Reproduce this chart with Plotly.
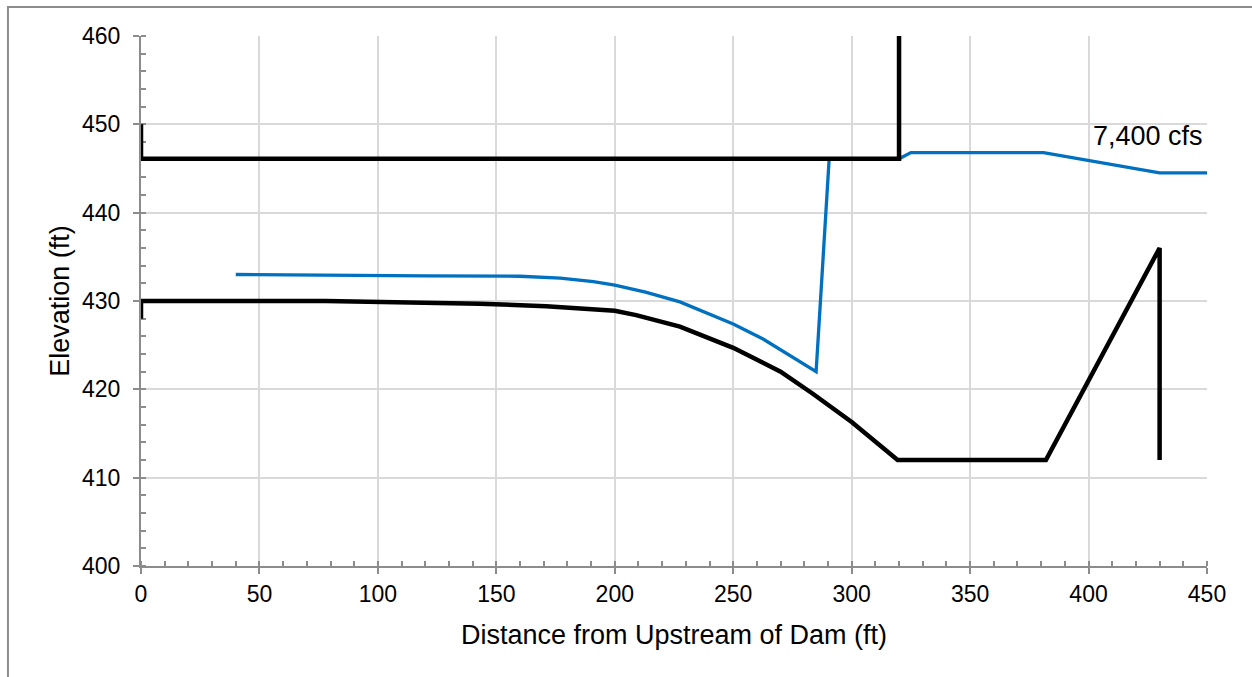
import plotly.graph_objects as go

# Channel / spillway bed profile
bed_x = [0, 0, 78, 120, 143, 171, 200, 209, 227.5, 250, 270, 283.6, 300, 319.4, 382, 430, 430]
bed_y = [428, 430, 430, 429.8, 429.7, 429.4, 428.9, 428.4, 427.1, 424.7, 422.0, 419.5, 416.3, 412.0, 412.0, 436.0, 412.0]

# Dam crest / reservoir outline
dam_x = [0, 0, 320, 320]
dam_y = [450, 446.1, 446.1, 460]

# Water surface for 7,400 cfs
ws_x = [40, 100, 120, 160, 177, 191, 200, 213, 227.5, 250, 262.6, 285, 290.5, 320, 325, 381, 430, 450]
ws_y = [433.0, 432.95, 432.85, 432.8, 432.6, 432.2, 431.8, 431.0, 429.9, 427.4, 425.7, 422.0, 446.1, 446.1, 446.8, 446.8, 444.5, 444.5]

flow_label = "7,400 cfs"

FONT = "Liberation Sans, Arial, sans-serif"

fig = go.Figure()
fig.add_trace(go.Scatter(x=ws_x, y=ws_y, mode="lines",
                         line=dict(color="#0070C0", width=3.3), showlegend=False))
fig.add_trace(go.Scatter(x=bed_x, y=bed_y, mode="lines",
                         line=dict(color="#000000", width=4.5), showlegend=False))
fig.add_trace(go.Scatter(x=dam_x, y=dam_y, mode="lines",
                         line=dict(color="#000000", width=4.5), showlegend=False))

fig.add_annotation(x=450, y=448.7, xref="x", yref="y", text=flow_label,
                   showarrow=False, xanchor="right", yanchor="middle", xshift=-2,
                   font=dict(family=FONT, size=27, color="#000000"))

# Outer chart frame
fig.add_shape(type="rect", xref="paper", yref="paper",
              x0=-0.1248, x1=1.08, y0=-0.3, y1=1.0547,
              line=dict(color="#8c8c8c", width=2), fillcolor="rgba(0,0,0,0)")

fig.update_xaxes(range=[0, 450], dtick=50, tick0=0,
                 showgrid=True, gridcolor="#d9d9d9", gridwidth=2,
                 showline=True, linecolor="#8c8c8c", linewidth=2,
                 ticks="outside", ticklen=6, tickwidth=2, tickcolor="#8c8c8c",
                 minor=dict(ticks="inside", dtick=10, ticklen=5, tickwidth=2,
                            tickcolor="#8c8c8c", showgrid=False),
                 zeroline=False, layer="below traces",
                 tickfont=dict(family=FONT, size=23, color="#000000"),
                 title=dict(text="Distance from Upstream of Dam (ft)", standoff=20,
                            font=dict(family=FONT, size=27, color="#000000")))
fig.update_yaxes(range=[400, 460], dtick=10, tick0=400,
                 showgrid=True, gridcolor="#d9d9d9", gridwidth=2,
                 showline=True, linecolor="#8c8c8c", linewidth=2,
                 ticks="outside", ticklen=6, tickwidth=2, tickcolor="#8c8c8c",
                 minor=dict(ticks="inside", dtick=2, ticklen=5, tickwidth=2,
                            tickcolor="#8c8c8c", showgrid=False),
                 zeroline=False, layer="below traces", ticklabelstandoff=8,
                 tickfont=dict(family=FONT, size=23, color="#000000"),
                 title=dict(text="Elevation (ft)", standoff=5,
                            font=dict(family=FONT, size=27, color="#000000")))

fig.update_layout(width=1252, height=677,
                  margin=dict(l=141, r=45, t=36, b=111),
                  paper_bgcolor="#ffffff", plot_bgcolor="#ffffff",
                  showlegend=False)

fig.write_html("out.html")
